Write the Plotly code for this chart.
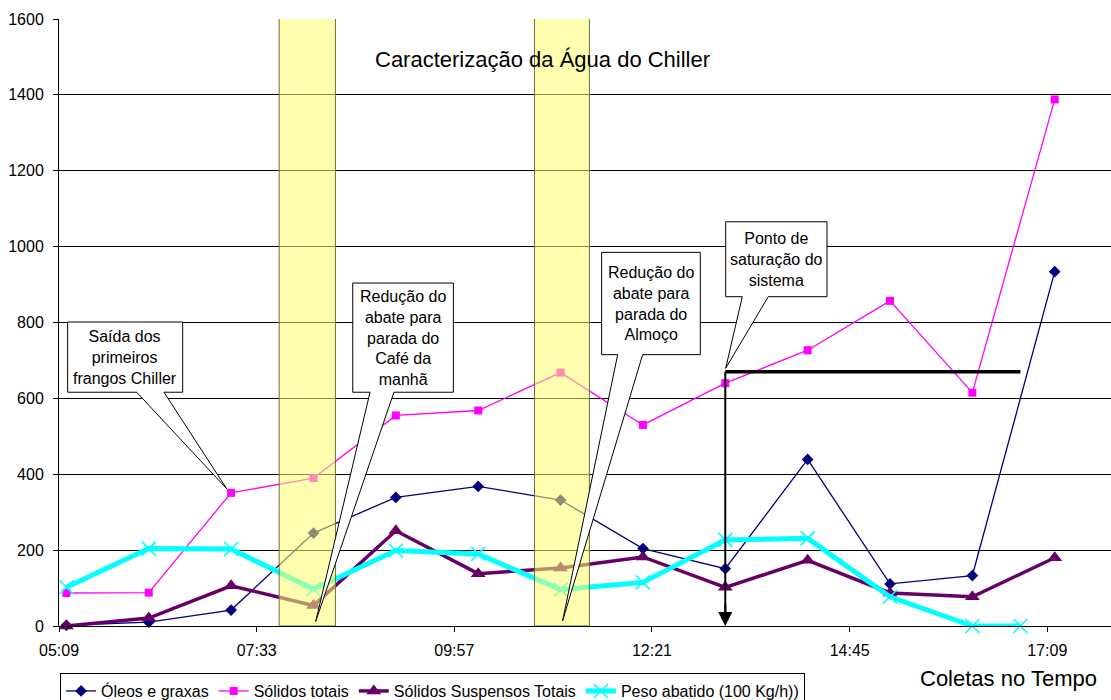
import plotly.graph_objects as go

# ---- data -------------------------------------------------------------
sample_times = ["05:15", "06:15", "07:15", "08:15", "09:15", "10:15", "11:15",
                "12:15", "13:15", "14:15", "15:15", "16:15", "17:15"]
peso_times = ["05:15", "06:15", "07:15", "08:15", "09:15", "10:15", "11:15",
              "12:15", "13:15", "14:15", "15:15", "16:15", "16:50"]

oleos_graxas = [2, 10, 42, 245, 339, 368, 332, 204, 151, 439, 111, 133, 934]
solidos_totais = [87, 88, 351, 390, 555, 568, 668, 530, 640, 727, 857, 615, 1388]
solidos_suspensos = [0, 21, 106, 54, 251, 138, 153, 182, 102, 173, 87, 77, 180]
peso_abatido = [102, 204, 203, 97, 199, 190, 96, 115, 227, 231, 77, 0, 0]

tick_labels = ["05:09", "07:33", "09:57", "12:21", "14:45", "17:09"]
y_ticks = [0, 200, 400, 600, 800, 1000, 1200, 1400, 1600]

# production stops (shaded) and the saturation marker
cafe_band = ("07:50", "08:31")
almoco_band = ("10:56", "11:36")
saturacao_inicio, saturacao_fim, saturacao_nivel = "13:15", "16:50", 670


def to_min(hhmm):
    h, m = hhmm.split(":")
    return int(h) * 60 + int(m)


# axis in minutes after midnight; major unit 0.1 day starting at 0.215 day
axis_start = 0.215 * 1440
major_unit = 0.1 * 1440
axis_end = 1076.0
tick_vals = [axis_start + i * major_unit for i in range(len(tick_labels))]

FONT = "Liberation Sans, Arial, sans-serif"

fig = go.Figure()

series = [
    ("Óleos e graxas", sample_times, oleos_graxas, "#000080", 1.3,
     dict(symbol="diamond", size=9, color="#000080")),
    ("Sólidos totais", sample_times, solidos_totais, "#ff00ff", 1.3,
     dict(symbol="square", size=8, color="#ff00ff")),
    ("Sólidos Suspensos Totais", sample_times, solidos_suspensos, "#660066", 3.5,
     dict(symbol="triangle-up", size=13, color="#660066")),
    ("Peso abatido (100 Kg/h))", peso_times, peso_abatido, "#00ffff", 5,
     dict(symbol="x-thin", size=14, color="#00ffff",
          line=dict(color="#00ffff", width=1.6))),
]
for name, times, vals, color, width, marker in series:
    fig.add_trace(go.Scatter(
        x=[to_min(t) for t in times], y=vals, name=name,
        mode="lines+markers", line=dict(color=color, width=width),
        marker=marker, cliponaxis=False,
    ))

shapes = []
# shaded stop periods
for start, end in (cafe_band, almoco_band):
    shapes.append(dict(type="rect", xref="x", yref="y",
                       x0=to_min(start), x1=to_min(end), y0=0, y1=1607,
                       fillcolor="rgba(255,255,110,0.55)",
                       line=dict(color="#6e6e3c", width=1), layer="above"))

# saturation marker: horizontal level and vertical drop
sx0, sx1 = to_min(saturacao_inicio), to_min(saturacao_fim)
shapes.append(dict(type="line", xref="x", yref="y", x0=sx0, x1=sx1,
                   y0=saturacao_nivel, y1=saturacao_nivel,
                   line=dict(color="black", width=3.5), layer="above"))
shapes.append(dict(type="line", xref="x", yref="y", x0=sx0, x1=sx0,
                   y0=saturacao_nivel, y1=8,
                   line=dict(color="black", width=2), layer="above"))

# callouts: box (x0, x1, y0, y1), wedge base (xa, xb), tip (xt, yt)
callouts = [
    ("Saída dos<br>primeiros<br>frangos Chiller",
     (315.9, 399.7, 616.2, 801.3), (366.2, 386.1), (431.8, 361.6)),
    ("Redução do<br>abate para<br>parada do<br>Café da<br>manhã",
     (523.6, 596.9, 616.2, 904.0), (536.2, 553.6), (496.6, 12.1)),
    ("Redução do<br>abate para<br>parada do<br>Almoço",
     (704.9, 776.8, 715.2, 984.9), (716.6, 734.8), (676.5, 14.0)),
    ("Ponto de<br>saturação do<br>sistema",
     (795.3, 869.1, 868.0, 1065.4), (807.4, 826.3), (795.3, 679.4)),
]
annotations = []
for text, (x0, x1, y0, y1), (xa, xb), (xt, yt) in callouts:
    path = (f"M {x0},{y1} L {x1},{y1} L {x1},{y0} L {xb},{y0} "
            f"L {xt},{yt} L {xa},{y0} L {x0},{y0} Z")
    shapes.append(dict(type="path", xref="x", yref="y", path=path,
                       fillcolor="white", line=dict(color="black", width=1),
                       layer="above"))
    annotations.append(dict(x=(x0 + x1) / 2, y=(y0 + y1) / 2, xref="x", yref="y",
                            text=text, showarrow=False, align="center",
                            font=dict(family=FONT, size=16, color="black")))

# arrow head at the bottom of the saturation drop
annotations.append(dict(x=sx0, y=0, xref="x", yref="y", ax=sx0, ay=60,
                        axref="x", ayref="y", text="", showarrow=True,
                        arrowhead=2, arrowsize=1.4, arrowwidth=2,
                        arrowcolor="black", standoff=0))

annotations.append(dict(x=662, y=1494, xref="x", yref="y",
                        text="Caracterização da Água do Chiller",
                        showarrow=False,
                        font=dict(family=FONT, size=22, color="black")))
annotations.append(dict(x=0.903, y=-0.086, xref="paper", yref="paper",
                        text="Coletas no Tempo", showarrow=False,
                        xanchor="center", yanchor="middle",
                        font=dict(family=FONT, size=22, color="black")))

fig.update_layout(
    width=1111, height=700,
    margin=dict(l=59, r=0, t=19, b=74, autoexpand=False),
    paper_bgcolor="white", plot_bgcolor="white",
    font=dict(family=FONT, size=16, color="black"),
    shapes=shapes, annotations=annotations,
    showlegend=True,
    legend=dict(orientation="h", x=0.001, y=-0.0775, xanchor="left", yanchor="top",
                bordercolor="black", borderwidth=1, bgcolor="white",
                font=dict(family=FONT, size=16, color="black"),
                itemwidth=30, tracegroupgap=0),
)
fig.update_xaxes(range=[axis_start, axis_end], tickvals=tick_vals, ticktext=tick_labels,
                 showgrid=False, zeroline=False, showline=True, linecolor="black",
                 linewidth=1, ticks="outside", ticklen=5, tickcolor="black",
                 ticklabelstandoff=5, tickfont=dict(family=FONT, size=16))
fig.update_yaxes(range=[0, 1600], tickvals=y_ticks, showgrid=True, gridcolor="black",
                 gridwidth=1, zeroline=False, showline=True, linecolor="black",
                 linewidth=1, ticks="outside", ticklen=5, tickcolor="black",
                 ticklabelstandoff=6, tickfont=dict(family=FONT, size=16))

fig.write_html("out.html")
